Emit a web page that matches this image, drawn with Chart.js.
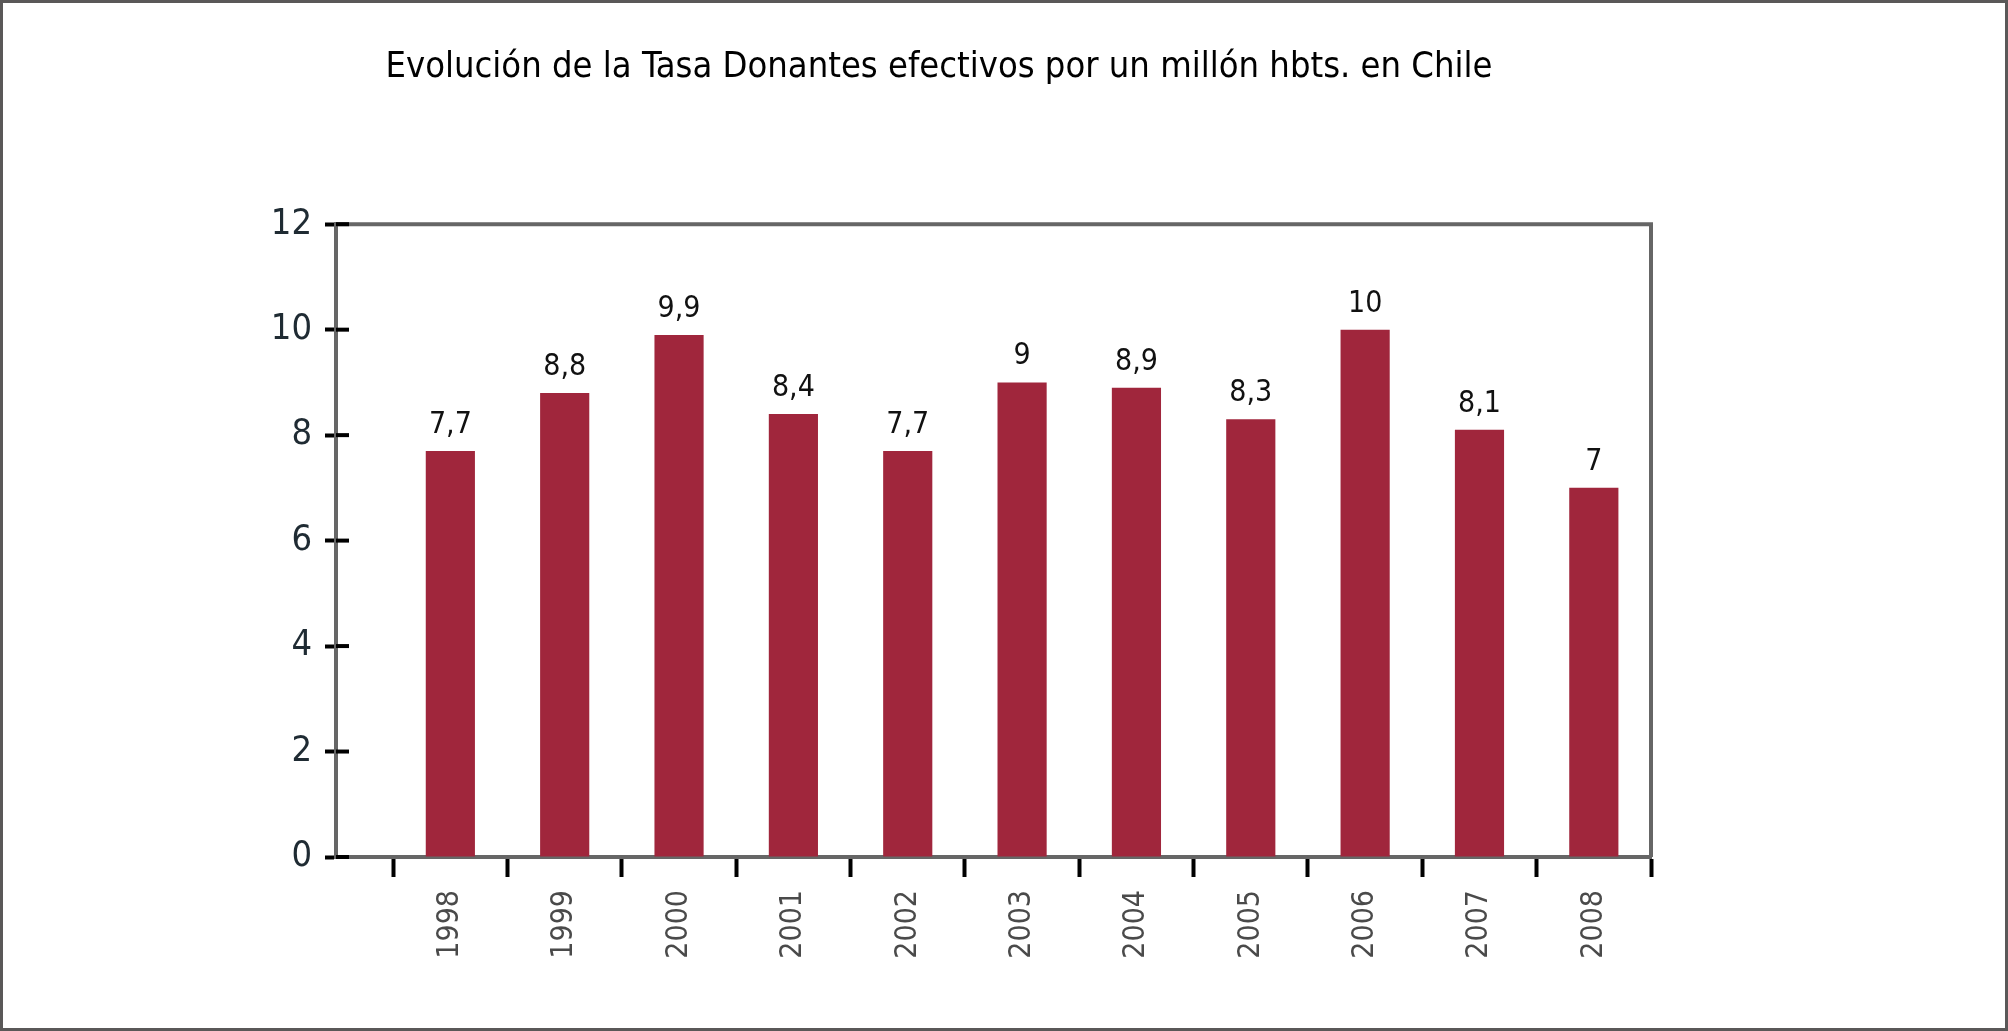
<!DOCTYPE html>
<html>
<head>
<meta charset="utf-8">
<script src="https://cdn.jsdelivr.net/npm/chart.js@4.4.1/dist/chart.umd.min.js"></script>
<style>
  html, body { margin: 0; padding: 0; background: #fff; }
  #wrap { position: relative; width: 2008px; height: 1031px; }
  #frame { position: absolute; left: 0; top: 0; width: 2008px; height: 1031px;
           box-sizing: border-box; border: 3px solid #5a5858; pointer-events: none; }
</style>
</head>
<body>
<div id="wrap">
  <canvas id="bar-chart"></canvas>
  <div id="frame"></div>
</div>
<script>
var chartTitle = "Evolución de la Tasa Donantes efectivos por un millón hbts. en Chile";
var years = ["1998", "1999", "2000", "2001", "2002", "2003", "2004", "2005", "2006", "2007", "2008"];
var donorRate = [7.7, 8.8, 9.9, 8.4, 7.7, 9, 8.9, 8.3, 10, 8.1, 7];
var yTicks = [0, 2, 4, 6, 8, 10, 12];

var narrow = "'Liberation Sans Narrow', 'DejaVu Sans Condensed', 'Arial Narrow', sans-serif";

// plot frame (top + right sides), the left/bottom come from the axis borders
var framePlugin = {
  id: 'plotFrame',
  afterDraw: function(chart) {
    let ctx = chart.ctx;
    let a = chart.chartArea;
    ctx.save();
    ctx.strokeStyle = '#666';
    ctx.lineWidth = 4;
    ctx.beginPath();
    ctx.moveTo(a.left, a.top);
    ctx.lineTo(a.right, a.top);
    ctx.lineTo(a.right, a.bottom);
    ctx.stroke();

    // y tick marks cross the axis, draw the inner half
    let y = chart.scales.y;
    ctx.strokeStyle = '#000';
    y.ticks.forEach(function(t) {
      let py = y.getPixelForValue(t.value);
      ctx.beginPath();
      ctx.moveTo(a.left, py);
      ctx.lineTo(a.left + 13, py);
      ctx.stroke();
    });
    ctx.restore();
  }
};

// value labels above the bars, with decimal comma
var valueLabels = {
  id: 'valueLabels',
  afterDatasetsDraw: function(chart) {
    let ctx = chart.ctx;
    let meta = chart.getDatasetMeta(0);
    ctx.save();
    ctx.fillStyle = '#111';
    ctx.font = '30px ' + narrow;
    ctx.textAlign = 'center';
    ctx.textBaseline = 'alphabetic';
    meta.data.forEach(function(bar, i) {
      ctx.fillText(String(donorRate[i]).replace('.', ','), bar.x, bar.y - 18);
    });
    ctx.restore();
  }
};

new Chart(document.getElementById("bar-chart"), {
  type: 'bar',
  data: {
    datasets: [{
      data: donorRate.map(function(v, i) { return { x: i, y: v }; }),
      backgroundColor: '#a0263c',
      borderWidth: 0,
      barPercentage: 0.43,
      categoryPercentage: 1
    }]
  },
  options: {
    responsive: true,
    maintainAspectRatio: false,
    animation: false,
    layout: { padding: { left: 227, right: 357, top: 0, bottom: 64 } },
    plugins: {
      legend: { display: false },
      tooltip: { enabled: false },
      title: {
        display: true,
        text: chartTitle,
        color: '#000',
        font: { family: narrow, size: 36, weight: 'normal', lineHeight: 1.2 },
        padding: { top: 46, bottom: 135 }
      }
    },
    scales: {
      x: {
        type: 'linear',
        offset: false,
        min: -1,
        max: 10.5,
        afterBuildTicks: function(scale) {
          scale.ticks = years.map(function(y, i) { return { value: i }; });
        },
        afterFit: function(scale) { scale.height = 110; },
        ticks: {
          autoSkip: false,
          minRotation: 90,
          maxRotation: 90,
          padding: 13,
          color: '#4a4a4a',
          font: { family: narrow, size: 30 },
          callback: function(value) { return years[value]; }
        },
        grid: {
          offset: true,
          drawOnChartArea: false,
          tickLength: 20,
          tickWidth: 4,
          tickColor: '#000'
        },
        border: { display: true, color: '#666', width: 4 }
      },
      y: {
        min: 0,
        max: 12,
        afterBuildTicks: function(scale) {
          scale.ticks = yTicks.map(function(v) { return { value: v }; });
        },
        afterFit: function(scale) { scale.width = 109; },
        ticks: {
          padding: 13,
          color: '#1f2b33',
          font: { family: narrow, size: 36 }
        },
        grid: {
          drawOnChartArea: false,
          tickLength: 11,
          tickWidth: 4,
          tickColor: '#000'
        },
        border: { display: true, color: '#666', width: 4 }
      }
    }
  },
  plugins: [framePlugin, valueLabels]
});
</script>
</body>
</html>
